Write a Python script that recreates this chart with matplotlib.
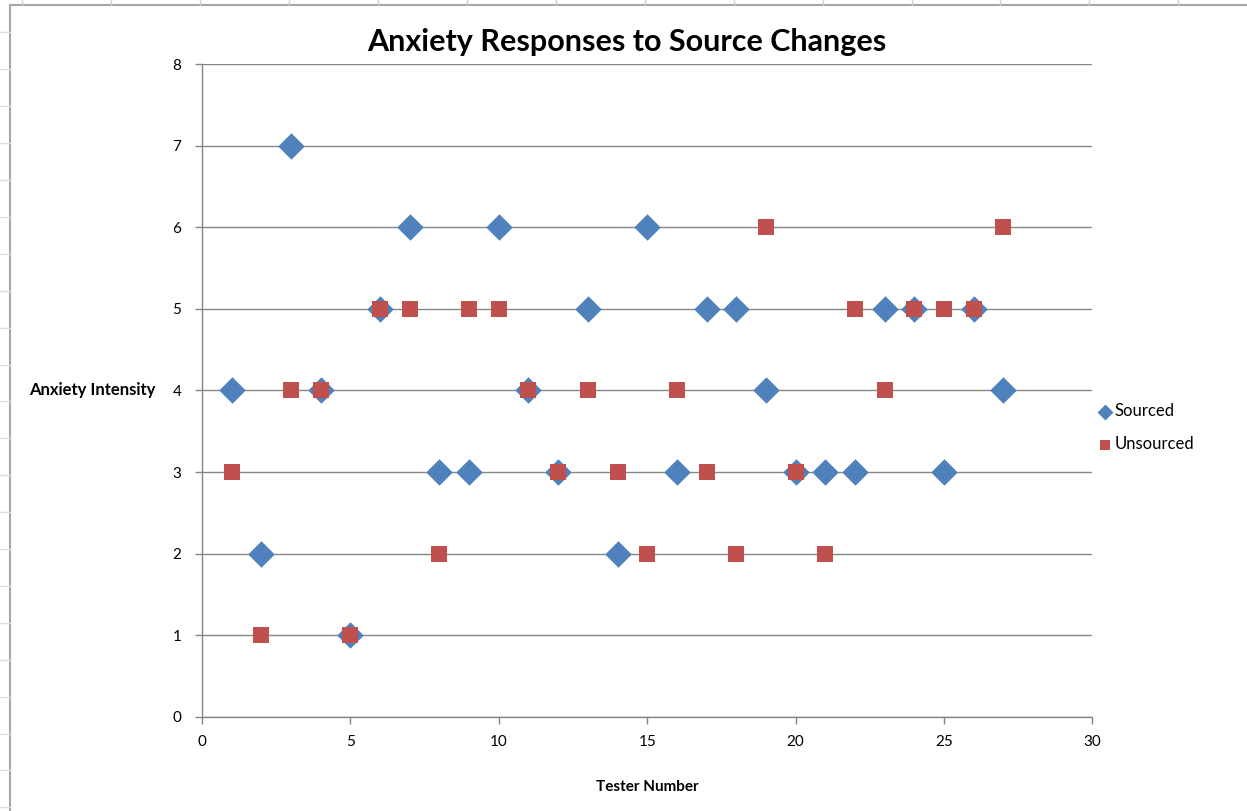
import matplotlib.pyplot as plt
import numpy as np

# Anxiety scores per tester, with and without a stated source
testers = list(range(1, 28))
sourced = [4, 2, 7, 4, 1, 5, 6, 3, 3, 6, 4, 3, 5, 2, 6, 3, 5, 5, 4, 3, 3, 3, 5, 5, 3, 5, 4]
unsourced = [3, 1, 4, 4, 1, 5, 5, 2, 5, 5, 4, 3, 4, 3, 2, 4, 3, 2, 6, 3, 2, 5, 4, 5, 5, 5, 6]

blue = '#4F81BD'
red = '#C0504D'
grey = '#868686'

plt.rcParams['font.family'] = ['Lato', 'DejaVu Sans']

fig = plt.figure(figsize=(12.47, 8.11), dpi=100)
ax = fig.add_axes([0.162, 0.116, 0.714, 0.805])

ax.scatter(testers, sourced, marker='D', s=13.5**2, color=blue, label='Sourced', zorder=3, linewidths=0)
ax.scatter(testers, unsourced, marker='s', s=11.5**2, color=red, label='Unsourced', zorder=4, linewidths=0)

ax.set_xlim(0, 30)
ax.set_ylim(0, 8)
ax.set_xticks(range(0, 31, 5))
ax.set_yticks(range(0, 9))
ax.yaxis.grid(True, color=grey, linewidth=1)
ax.set_axisbelow(True)

for s in ['top', 'right']:
    ax.spines[s].set_visible(False)
for s in ['left', 'bottom']:
    ax.spines[s].set_color(grey)
    ax.spines[s].set_linewidth(1)
ax.tick_params(colors=grey, labelcolor='black', labelsize=11, length=5, width=1)
ax.tick_params(axis='x', pad=8)
ax.tick_params(axis='y', pad=10)

fig.text(0.503, 0.948, 'Anxiety Responses to Source Changes', fontsize=22,
         fontweight='bold', ha='center', va='center')
ax.set_xlabel('Tester Number', fontsize=11, fontweight='bold', labelpad=22)
ax.set_ylabel('Anxiety Intensity', fontsize=12, fontweight='bold', rotation=0,
              ha='right', va='center', labelpad=12)

leg = ax.legend(loc='center left', bbox_to_anchor=(0.982, 0.443), frameon=False,
                fontsize=12, handletextpad=-0.4, labelspacing=1.0, markerscale=0.6,
                borderaxespad=0.3)

# sheet frame around the chart
fig.add_artist(plt.Line2D([0.008, 1.0], [0.994, 0.994], color='#a6a6a6', linewidth=1.5))
fig.add_artist(plt.Line2D([0.008, 0.008], [0.0, 0.994], color='#a6a6a6', linewidth=1.5))
for xt in np.arange(0.018, 1.0, 0.0713):
    fig.add_artist(plt.Line2D([xt, xt], [0.994, 1.0], color='#cccccc', linewidth=1))
for yt in np.arange(0.96, 0.0, -0.0455):
    fig.add_artist(plt.Line2D([0.0, 0.008], [yt, yt], color='#dddddd', linewidth=1))

fig.savefig('out.png', dpi=100)
